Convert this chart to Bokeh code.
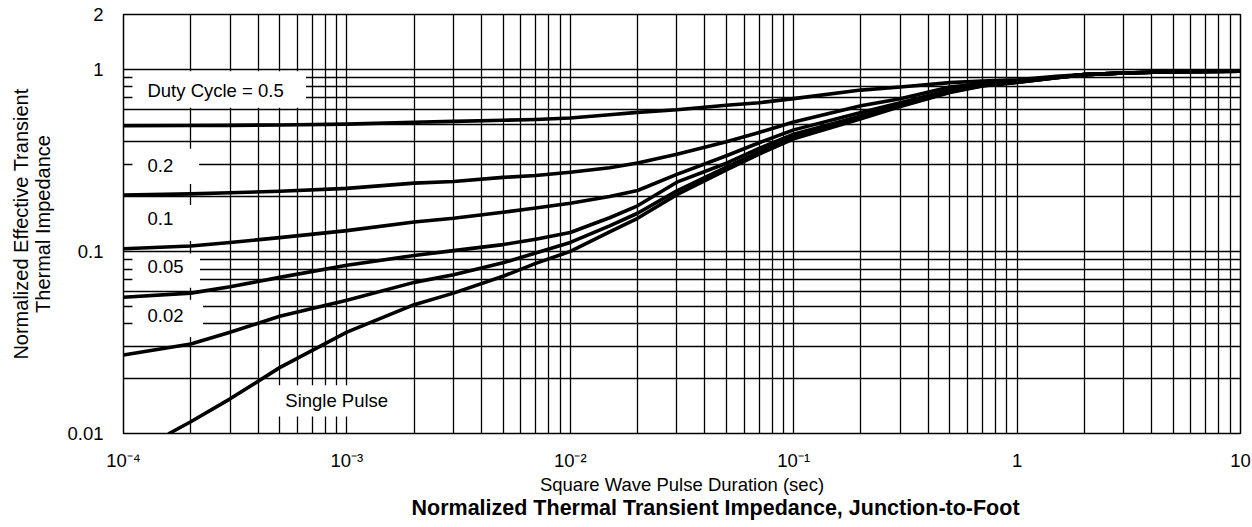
from bokeh.plotting import figure
from bokeh.models import FixedTicker, Title
from bokeh.core.properties import value
from bokeh.embed import file_html
from bokeh.resources import INLINE

# ---- data ----
x_pts = [1e-4, 2e-4, 3e-4, 5e-4, 1e-3, 2e-3, 3e-3, 5e-3, 7e-3, 1e-2, 1.5e-2, 2e-2, 3e-2,
         5e-2, 7e-2, 0.1, 0.2, 0.3, 0.5, 0.7, 1, 1.5, 2, 3, 5, 10]
duty_05 = [0.490, 0.491, 0.492, 0.495, 0.500, 0.512, 0.518, 0.525, 0.530, 0.540, 0.563, 0.580, 0.600,
           0.635, 0.655, 0.690, 0.769, 0.800, 0.845, 0.862, 0.875, 0.915, 0.935, 0.955, 0.970, 0.975]
duty_02 = [0.204, 0.207, 0.210, 0.214, 0.222, 0.237, 0.242, 0.255, 0.261, 0.272, 0.288, 0.306, 0.342,
           0.400, 0.450, 0.514, 0.630, 0.690, 0.800, 0.835, 0.860, 0.905, 0.935, 0.955, 0.970, 0.975]
duty_01 = [0.1035, 0.107, 0.112, 0.119, 0.130, 0.145, 0.152, 0.164, 0.173, 0.184, 0.200, 0.216, 0.265,
           0.335, 0.395, 0.465, 0.580, 0.655, 0.770, 0.825, 0.855, 0.905, 0.935, 0.955, 0.970, 0.975]
duty_005 = [0.056, 0.059, 0.064, 0.072, 0.084, 0.095, 0.101, 0.109, 0.1165, 0.127, 0.153, 0.178, 0.240,
            0.305, 0.368, 0.440, 0.555, 0.640, 0.755, 0.815, 0.850, 0.900, 0.935, 0.955, 0.970, 0.975]
duty_002 = [0.027, 0.031, 0.036, 0.044, 0.054, 0.0676, 0.0745, 0.0866, 0.098, 0.112, 0.138, 0.162, 0.215,
            0.290, 0.352, 0.425, 0.545, 0.630, 0.750, 0.812, 0.850, 0.900, 0.935, 0.955, 0.970, 0.975]
single_x = [1.6e-4, 2e-4, 3e-4, 5e-4, 1e-3, 2e-3, 3e-3, 5e-3, 7e-3, 1e-2, 1.5e-2, 2e-2, 3e-2,
            5e-2, 7e-2, 0.1, 0.2, 0.3, 0.5, 0.7, 1, 1.5, 2, 3, 5, 10]
single_pulse = [0.010, 0.0116, 0.0155, 0.023, 0.036, 0.051, 0.059, 0.073, 0.086, 0.100, 0.128, 0.152, 0.205,
                0.280, 0.342, 0.415, 0.535, 0.625, 0.745, 0.810, 0.848, 0.900, 0.935, 0.955, 0.970, 0.975]

x_ticks = [1e-4, 1e-3, 1e-2, 1e-1, 1, 10]
x_tick_labels = ["10\u207b\u2074", "10\u207b\u00b3", "10\u207b\u00b2", "10\u207b\u00b9", "1", "10"]
y_ticks = [0.01, 0.1, 1, 2]
y_tick_labels = ["0.01", "0.1", "1", "2"]

curve_labels = ["Duty Cycle = 0.5", "0.2", "0.1", "0.05", "0.02", "Single Pulse"]

# ---- annotation placement (label anchors and white label boxes) ----
label_x = [1.28e-4, 1.28e-4, 1.28e-4, 1.28e-4, 1.28e-4, 5.3e-4]
label_y = [0.766, 0.295, 0.152, 0.0823, 0.0443, 0.0151]
box_left = [1.096e-4, 1.096e-4, 1.096e-4, 1.096e-4, 1.096e-4, 4.73e-4]
box_right = [6.56e-4, 2.18e-4, 2.18e-4, 2.2e-4, 2.27e-4, 1.7e-3]
box_top = [0.975, 0.366, 0.180, 0.0975, 0.0543, 0.0184]
box_bottom = [0.615, 0.2344, 0.114, 0.0632, 0.0339, 0.0124]

FONT = "Liberation Sans"
FS = "18.5px"

minor_x = [m * 10.0 ** e for e in range(-4, 1) for m in range(2, 10)]
minor_y = [m * 10.0 ** e for e in range(-2, 0) for m in range(2, 10)]

p = figure(width=1252, height=527, x_axis_type="log", y_axis_type="log",
           x_range=(1e-4, 10), y_range=(0.01, 2),
           output_backend="svg", toolbar_location=None,
           min_border_left=123, min_border_right=12, min_border_top=14, min_border_bottom=94)
p.background_fill_color = "white"
p.border_fill_color = "white"
p.outline_line_color = "black"
p.outline_line_width = 1.5

xt = FixedTicker(ticks=x_ticks, minor_ticks=minor_x)
yt = FixedTicker(ticks=y_ticks, minor_ticks=minor_y)
p.xaxis.ticker = xt
p.yaxis.ticker = yt
p.xgrid.ticker = xt
p.ygrid.ticker = yt
p.xaxis.major_label_overrides = dict(zip(x_ticks, x_tick_labels))
p.yaxis.major_label_overrides = dict(zip(y_ticks, y_tick_labels))

for g in (p.xgrid, p.ygrid):
    g.grid_line_color = "black"
    g.grid_line_width = 1.3
    g.minor_grid_line_color = "black"
    g.minor_grid_line_width = 1.3

for ax in (p.xaxis, p.yaxis):
    ax.axis_line_color = None
    ax.major_tick_line_color = None
    ax.minor_tick_line_color = None
    ax.major_tick_out = 0
    ax.major_tick_in = 0
    ax.major_label_text_font = FONT
    ax.major_label_text_font_size = FS
    ax.major_label_text_color = "black"
    ax.axis_label_text_font = FONT
    ax.axis_label_text_font_style = "normal"
    ax.axis_label_text_color = "black"

p.yaxis.major_label_standoff = 16
p.xaxis.major_label_standoff = 12
p.yaxis.axis_label = "Normalized Effective Transient\nThermal Impedance"
p.yaxis.axis_label_text_font_size = "20px"
p.yaxis.axis_label_standoff = 10
p.yaxis.axis_label_text_line_height = 1.0
p.xaxis.axis_label = "Square Wave Pulse Duration (sec)"
p.xaxis.axis_label_text_font_size = FS
p.xaxis.axis_label_standoff = 0

p.quad(left=box_left, right=box_right, top=box_top, bottom=box_bottom,
       fill_color="white", line_color=None)
p.text(x=label_x, y=label_y, text=curve_labels, text_font=value(FONT),
       text_font_size=value(FS), text_baseline="middle", text_align="left",
       text_color="black")

for ys in (duty_05, duty_02, duty_01, duty_005, duty_002):
    p.line(x_pts, ys, line_width=3.6, color="black", line_join="round", line_cap="round")
p.line(single_x, single_pulse, line_width=3.6, color="black", line_join="round", line_cap="round")

title = Title(text="Normalized Thermal Transient Impedance, Junction-to-Foot",
              align="left", offset=288, vertical_align="top", standoff=-4,
              text_font=FONT, text_font_size="21.5px", text_font_style="bold",
              text_color="black", text_line_height=1.0)
p.add_layout(title, "below")

open("out.html", "w").write(file_html(p, INLINE))
